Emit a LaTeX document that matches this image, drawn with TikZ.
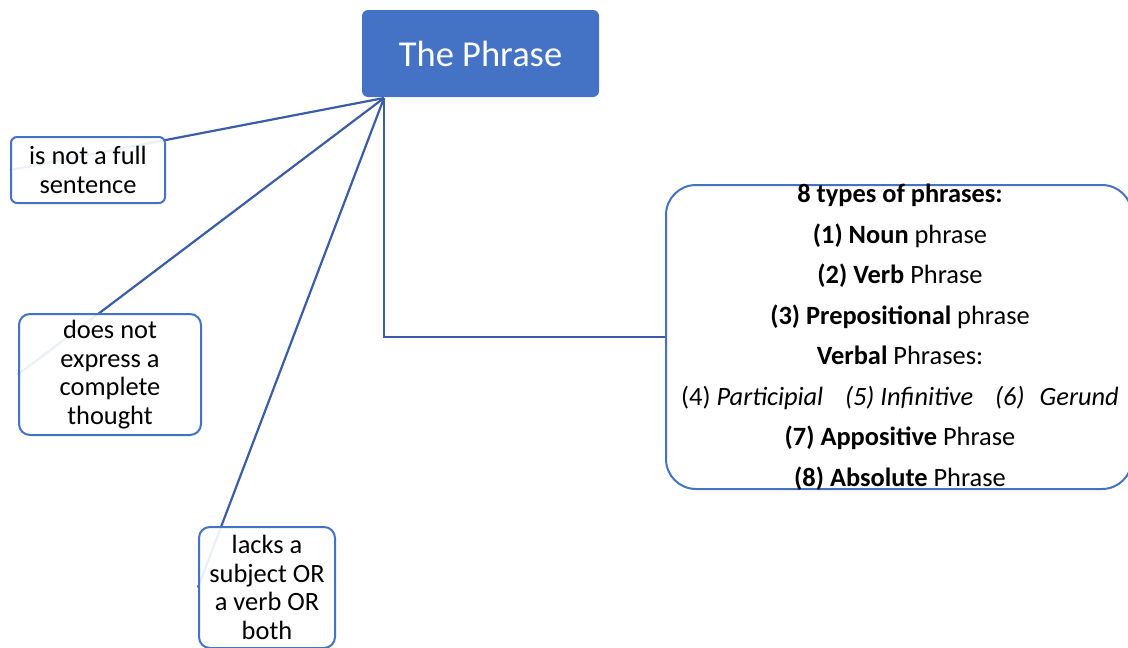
\documentclass[tikz,border=0pt]{standalone}
\usepackage{fontspec}
\setmainfont{Carlito}
\usetikzlibrary{backgrounds}
\definecolor{accent}{HTML}{4472C4}
\definecolor{linkc}{HTML}{3A5DA5}
\begin{document}
\begin{tikzpicture}[x=1pt,y=-1pt,
  leaf/.style={draw=accent, line width=2pt, fill=white, fill opacity=0.9, text opacity=1,
    rounded corners=#1, align=center, inner sep=0pt, text=black,
    font=\fontsize{26.4}{28.5}\selectfont},
  leaf/.default=8pt,
  topbox/.style={fill=accent, rounded corners=6pt, text=white, inner sep=0pt,
    font=\fontsize{36.5}{40}\selectfont},
  typebox/.style={draw=accent, line width=2pt, fill=white, rounded corners=30pt, inner sep=0pt},
  typetext/.style={align=center, inner sep=0pt, font=\fontsize{26.4}{40.5}\selectfont},
  conn/.style={draw=linkc, line width=2.2pt}
]
\useasboundingbox (0,0) rectangle (1128,648);

\node[topbox, minimum width=237pt, minimum height=87pt] (top) at (480.5,53.5) {The Phrase};
\coordinate (hub) at (384,98);

\node[leaf=6pt, minimum width=154pt, minimum height=66pt] (b1) at (88,170) {is not a full\\sentence};
\node[leaf=11pt, minimum width=182pt, minimum height=121pt] (b2) at (110,374.5) {does not\\express a\\complete\\thought};
\node[leaf=11pt, minimum width=136pt, minimum height=121pt] (b3) at (267,587.5) {lacks a\\subject OR\\a verb OR\\both};

\node[typebox, minimum width=466pt, minimum height=304pt] (types) at (899,337) {};
\node[typetext] (typestext) at (900,337) {\textbf{8 types of phrases:}\\
\textbf{(1) Noun} phrase\\
\textbf{(2) Verb} Phrase\\
\textbf{(3) Prepositional} phrase\\
\textbf{Verbal} Phrases:\\
(4) \textit{Participial}\hspace{0.6em} \textit{(5) Infinitive}\hspace{0.6em} \textit{(6)\hspace{0.35em} Gerund}\\
\textbf{(7) Appositive} Phrase\\
\textbf{(8) Absolute} Phrase};

\begin{scope}[on background layer]
\draw[conn] (hub) -- (b1.west);
\draw[conn] (hub) -- (b2.west);
\draw[conn] (hub) -- (b3.west);
\draw[conn] (hub) |- (types.west);
\end{scope}
\end{tikzpicture}
\end{document}
